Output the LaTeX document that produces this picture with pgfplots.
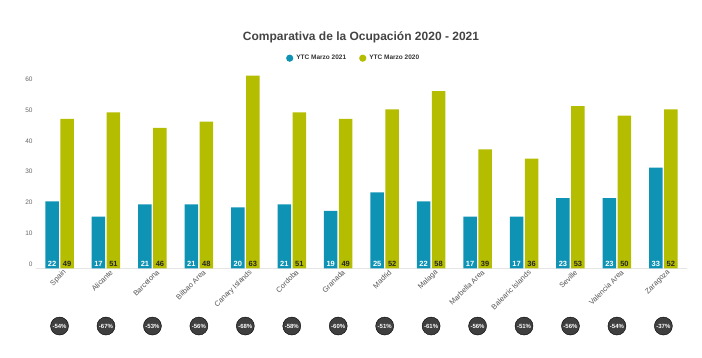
\documentclass[border=0pt]{standalone}
\usepackage{pgfplots}
\usepackage{pgfplotstable}
\pgfplotsset{compat=1.18}
\usepackage{fontspec}
\setmainfont{Liberation Sans}
\definecolor{blueC}{HTML}{0F93B5}
\definecolor{yelC}{HTML}{B5BD00}
\definecolor{circC}{HTML}{3F3F3F}
\definecolor{tickC}{HTML}{666666}
\definecolor{labC}{HTML}{555555}
\definecolor{titC}{HTML}{444444}
\pgfplotstableread{
x b y base cy lb ly pct
0 21.7 48.4 0 -18.7 22 49 -54
1 16.7 50.5 0 -18.7 17 51 -67
2 20.7 45.5 0 -18.7 21 46 -53
3 20.7 47.5 0 -18.7 21 48 -56
4 19.7 62.4 0 -18.7 20 63 -68
5 20.7 50.5 0 -18.7 21 51 -58
6 18.6 48.4 0 -18.7 19 49 -60
7 24.6 51.5 0 -18.7 25 52 -51
8 21.7 57.4 0 -18.7 22 58 -61
9 16.7 38.5 0 -18.7 17 39 -56
10 16.7 35.5 0 -18.7 17 36 -51
11 22.7 52.5 0 -18.7 23 53 -56
12 22.7 49.4 0 -18.7 23 50 -54
13 32.6 51.5 0 -18.7 33 52 -37
}\datatab
\begin{document}
\begin{tikzpicture}
\useasboundingbox (0,0) rectangle (702bp,358bp);
\begin{axis}[
  at={(36.3bp,89.7bp)}, anchor=south west,
  scale only axis, width=650.3bp, height=185.3bp,
  xmin=-0.5, xmax=13.5, ymin=0, ymax=60,
  clip=false,
  axis y line=left,
  axis x line=bottom,
  y axis line style={draw=none},
  x axis line style={-, draw=black!10, line width=0.6bp},
  ytick={0,10,20,30,40,50,60},
  xtick={0,...,13},
  xticklabels={Spain,Alicante,Barcelona,Bilbao Area,Canary Islands,Cordoba,Granada,Madrid,Malaga,Marbella Area,Balearic Islands,Seville,Valencia Area,Zaragoza},
  major tick length=0pt,
  tick style={draw=none},
  /pgf/number format/assume math mode=true,
  yticklabel style={font=\fontsize{6.5bp}{7bp}\selectfont, text=tickC, anchor=east, inner sep=0pt, xshift=-3.5bp, yshift=4bp},
  xticklabel style={font=\fontsize{7.4bp}{8bp}\selectfont, text=labC, rotate=45, anchor=east, inner sep=0pt, xshift=2bp, yshift=-6bp},
  title={Comparativa de la Ocupación 2020 - 2021},
  title style={at={(0.4993,1.212)}, anchor=center, font=\bfseries\fontsize{12bp}{14bp}\selectfont, text=titC, inner sep=0pt},
  legend columns=2,
  legend style={at={(0.4880,1.134)}, anchor=center, draw=none, fill=none, inner sep=0pt,
    font=\bfseries\fontsize{6.5bp}{7.5bp}\selectfont, text=black!80,
    /tikz/every odd column/.append style={column sep=1bp},
    /tikz/every even column/.append style={column sep=11bp}},
]
\addplot[ybar, bar width=13.5bp, bar shift=-7.5bp, fill=blueC, draw=none,
  legend image code/.code={\fill[blueC] (0bp,0bp) circle (3.6bp);}]
  table[x=x, y=b] {\datatab};
\addlegendentry{YTC Marzo 2021}
\addplot[ybar, bar width=13.5bp, bar shift=7.5bp, fill=yelC, draw=none,
  legend image code/.code={\fill[yelC] (0bp,0bp) circle (3.6bp);}]
  table[x=x, y=y] {\datatab};
\addlegendentry{YTC Marzo 2020}
\addplot[only marks, mark=none, forget plot,
  nodes near coords, point meta=explicit symbolic,
  nodes near coords style={anchor=center, xshift=-7.5bp, yshift=4.3bp, text=white, font=\bfseries\fontsize{7.5bp}{8bp}\selectfont, inner sep=0pt}]
  table[x=x, y=base, meta=lb] {\datatab};
\addplot[only marks, mark=none, forget plot,
  nodes near coords, point meta=explicit symbolic,
  nodes near coords style={anchor=center, xshift=7.5bp, yshift=4.3bp, text=black!85, font=\bfseries\fontsize{7.5bp}{8bp}\selectfont, inner sep=0pt}]
  table[x=x, y=base, meta=ly] {\datatab};
\addplot[only marks, mark=*, mark size=9bp, mark options={fill=circC, draw=none}, forget plot,
  nodes near coords={\pgfplotspointmeta\%}, point meta=explicit symbolic,
  nodes near coords style={anchor=center, text=white, font=\bfseries\fontsize{6bp}{7bp}\selectfont, inner sep=0pt}]
  table[x=x, y=cy, meta=pct] {\datatab};
\end{axis}
\end{tikzpicture}
\end{document}
